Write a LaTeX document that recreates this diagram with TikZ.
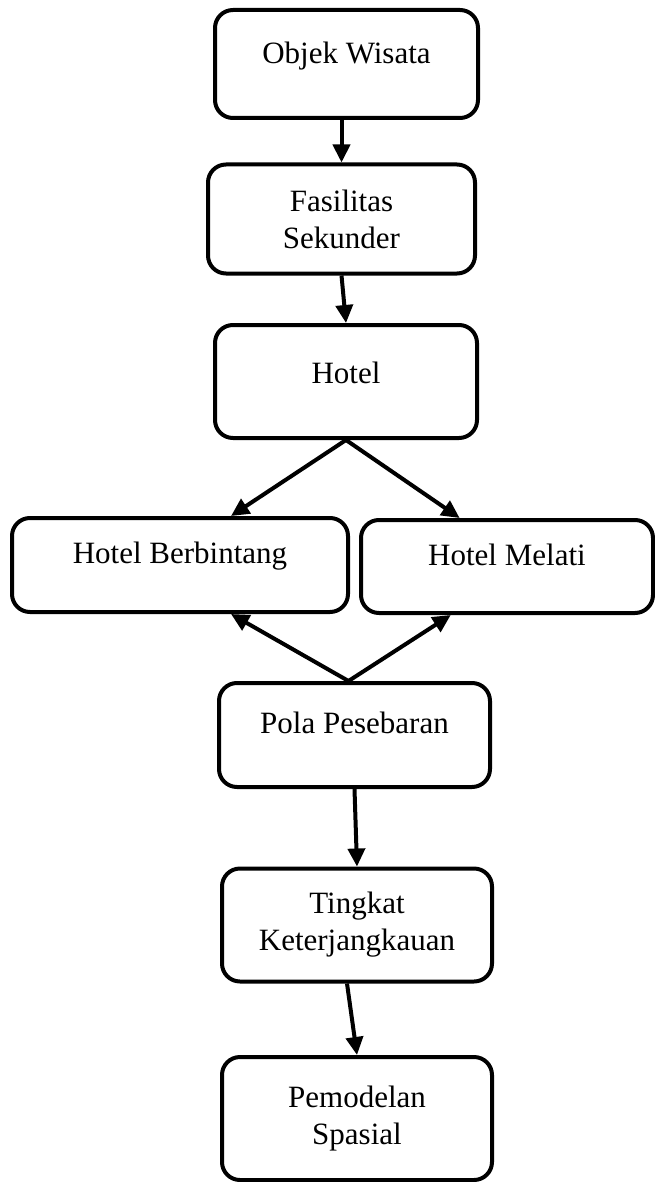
\documentclass[tikz,border=0pt]{standalone}
\usepackage{fontspec}
\setmainfont{Liberation Serif}
\usetikzlibrary{arrows.meta,calc}
\tikzset{
  kotak/.style={draw, line width=4pt, rounded corners=18pt, align=center,
    font=\fontsize{31pt}{37pt}\selectfont, inner sep=0pt},
  naik/.style={text depth=#1},
  panah/.style={line width=4pt, -{Triangle[length=18pt,width=17pt]}}
}
\begin{document}
\begin{tikzpicture}[x=1pt,y=-1pt]
\useasboundingbox (0,0) rectangle (655,1182);

\node[kotak, naik=22pt, minimum width=263pt, minimum height=108pt] (objek) at (346.5,64) {Objek Wisata};
\node[kotak, minimum width=267pt, minimum height=109pt] (fasilitas) at (341.5,219) {Fasilitas\\Sekunder};
\node[kotak, naik=18pt, minimum width=262pt, minimum height=113pt] (hotel) at (346,381.5) {Hotel};
\node[kotak, naik=24pt, minimum width=336pt, minimum height=94pt] (bintang) at (180,565) {Hotel Berbintang};
\node[kotak, naik=24pt, minimum width=292pt, minimum height=93pt] (melati) at (507,566.5) {Hotel Melati};
\node[kotak, naik=24pt, minimum width=271pt, minimum height=104pt] (pola) at (354.5,735) {Pola Pesebaran};
\node[kotak, minimum width=270pt, minimum height=113pt] (jangkau) at (357,925) {Tingkat\\Keterjangkauan};
\node[kotak, minimum width=270pt, minimum height=123pt] (model) at (357,1118.5) {Pemodelan\\Spasial};

\draw[panah] (objek.south -| fasilitas.north) -- (fasilitas.north);
\draw[panah] (fasilitas.south) -- (hotel.north);
\draw[panah] (hotel.south) -- ($(bintang.north)!0.3!(bintang.north east)$);
\draw[panah] (hotel.south) -- ($(melati.north)!0.32!(melati.north west)$);
\draw[panah] ($(pola.north)+(-6,0)$) -- ($(bintang.south)!0.3!(bintang.south east)$);
\draw[panah] ($(pola.north)+(-6,0)$) -- ($(melati.south)!0.38!(melati.south west)$);
\draw[panah] (pola.south) -- (jangkau.north);
\draw[panah] ($(jangkau.south)+(-10,0)$) -- (model.north);
\end{tikzpicture}
\end{document}
